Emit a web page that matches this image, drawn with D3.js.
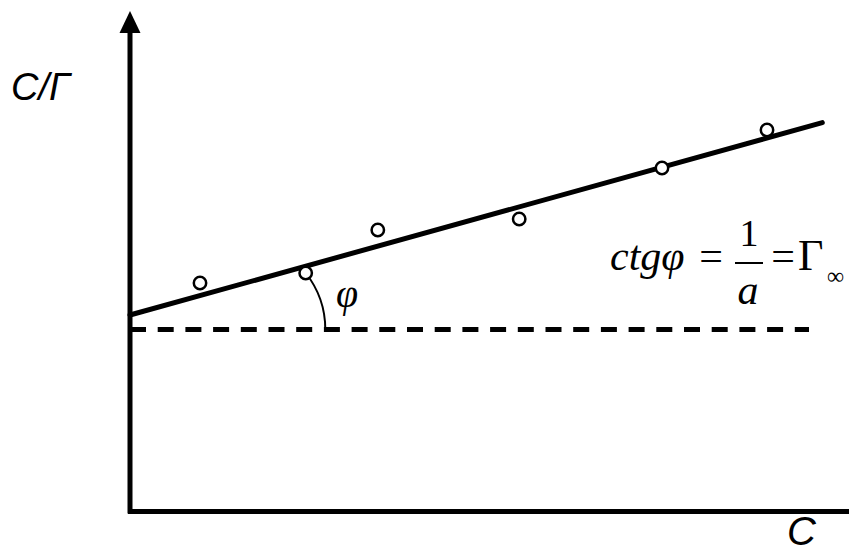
<!DOCTYPE html>
<html>
<head>
<meta charset="utf-8">
<script src="https://cdn.jsdelivr.net/npm/d3@7"></script>
<style>
  body { margin: 0; background: #fff; }
  svg { display: block; }
  .lbl { font-family: "Liberation Sans", Arial, sans-serif; font-style: italic; }
  .math { font-family: "Liberation Serif", "Times New Roman", serif; }
</style>
</head>
<body>
<script>
// measured points: concentration C and C/Г
var concC = [1.0, 2.51, 3.54, 5.56, 7.6, 9.1];
var ratioCG = [4.56, 4.76, 5.62, 5.84, 6.86, 7.62];

// fitted straight line (intercept, slope) and the dashed level
var fitIntercept = 3.92;
var fitSlope = 0.389;
var fitEndC = 9.89;
var dashLevel = 3.63;
var dashEndC = 9.7;
var arcEndC = 2.79;

var width = 849,
  height = 553;

var x = d3.scaleLinear().domain([0, 10]).range([130, 830]);
var y = d3.scaleLinear().domain([0, 10]).range([511, 11]);

var svg = d3
  .select("body")
  .append("svg")
  .attr("width", width)
  .attr("height", height);

// axes, no ticks
var yAxis = d3.axisLeft(y).ticks(0).tickSizeOuter(0);
var xAxis = d3.axisBottom(d3.scaleLinear().range([x(0) - 2.5, width])).ticks(0).tickSizeOuter(0);

svg
  .append("g")
  .attr("class", "y axis")
  .attr("transform", "translate(" + x(0) + ",0)")
  .call(yAxis)
  .select(".domain")
  .attr("stroke", "#000")
  .attr("stroke-width", 5)
  .attr("d", "M0," + (y(0) + 2.5) + "V" + (y(10) + 18));

svg
  .append("g")
  .attr("class", "x axis")
  .attr("transform", "translate(0," + y(0) + ")")
  .call(xAxis)
  .select(".domain")
  .attr("stroke", "#000")
  .attr("stroke-width", 5);

// arrow head on y axis
svg
  .append("path")
  .attr("d", "M" + x(0) + "," + y(10) + "L" + (x(0) - 10.5) + "," + (y(10) + 22) + "L" + (x(0) + 10.5) + "," + (y(10) + 22) + "Z")
  .attr("fill", "#000");

// dashed level
svg
  .append("line")
  .attr("x1", x(0))
  .attr("x2", x(dashEndC))
  .attr("y1", y(dashLevel))
  .attr("y2", y(dashLevel))
  .attr("stroke", "#000")
  .attr("stroke-width", 5)
  .attr("stroke-dasharray", "16,11.7");

// fitted line
svg
  .append("line")
  .attr("x1", x(0))
  .attr("y1", y(fitIntercept))
  .attr("x2", x(fitEndC))
  .attr("y2", y(fitIntercept + fitSlope * fitEndC))
  .attr("stroke", "#000")
  .attr("stroke-width", 5)
  .attr("stroke-linecap", "round");

// angle arc from the 2nd point down to the dashed level
var px = x(concC[1]),
  py = y(ratioCG[1]),
  ex = x(arcEndC),
  ey = y(dashLevel);
var cx = (ex * ex - px * px - (py - ey) * (py - ey)) / (2 * (ex - px));
var r = ex - cx;
var a0 = Math.atan2(py - ey, px - cx);
var arcPath = d3.path();
arcPath.arc(cx, ey, r, a0, 0);
svg
  .append("path")
  .attr("d", arcPath.toString())
  .attr("fill", "none")
  .attr("stroke", "#000")
  .attr("stroke-width", 2);

// points
svg
  .selectAll(".pt")
  .data(concC)
  .enter()
  .append("circle")
  .attr("class", "pt")
  .attr("cx", function(d) {
    return x(d);
  })
  .attr("cy", function(d, i) {
    return y(ratioCG[i]);
  })
  .attr("r", 6.2)
  .attr("fill", "#fff")
  .attr("stroke", "#000")
  .attr("stroke-width", 2.5);

// labels
svg
  .append("text")
  .attr("class", "lbl")
  .attr("x", 11)
  .attr("y", 100)
  .style("font-size", "38px")
  .text("C/Γ");

svg
  .append("text")
  .attr("class", "lbl")
  .attr("x", 787)
  .attr("y", 545)
  .style("font-size", "40px")
  .text("C");

svg
  .append("text")
  .attr("class", "math")
  .attr("x", 336)
  .attr("y", 307)
  .style("font-size", "40px")
  .style("font-style", "italic")
  .text("φ");

// formula ctgφ = 1/a = Г∞
var f = svg.append("g").attr("class", "math").style("font-size", "42px");
f.append("text")
  .attr("x", 610)
  .attr("y", 270)
  .style("font-style", "italic")
  .text("ctgφ");
f.append("text")
  .attr("x", 711)
  .attr("y", 270)
  .attr("text-anchor", "middle")
  .text("=");
f.append("line")
  .attr("x1", 735)
  .attr("x2", 763)
  .attr("y1", 263)
  .attr("y2", 263)
  .attr("stroke", "#000")
  .attr("stroke-width", 2);
f.append("text")
  .attr("x", 749)
  .attr("y", 246)
  .attr("text-anchor", "middle")
  .style("font-size", "38px")
  .text("1");
f.append("text")
  .attr("x", 748)
  .attr("y", 304)
  .attr("text-anchor", "middle")
  .style("font-style", "italic")
  .text("a");
f.append("text")
  .attr("x", 783)
  .attr("y", 270)
  .attr("text-anchor", "middle")
  .text("=");
f.append("text")
  .attr("x", 798)
  .attr("y", 270)
  .style("font-size", "44px")
  .text("Γ");
f.append("text")
  .attr("x", 827)
  .attr("y", 284)
  .style("font-size", "24px")
  .text("∞");
</script>
</body>
</html>
